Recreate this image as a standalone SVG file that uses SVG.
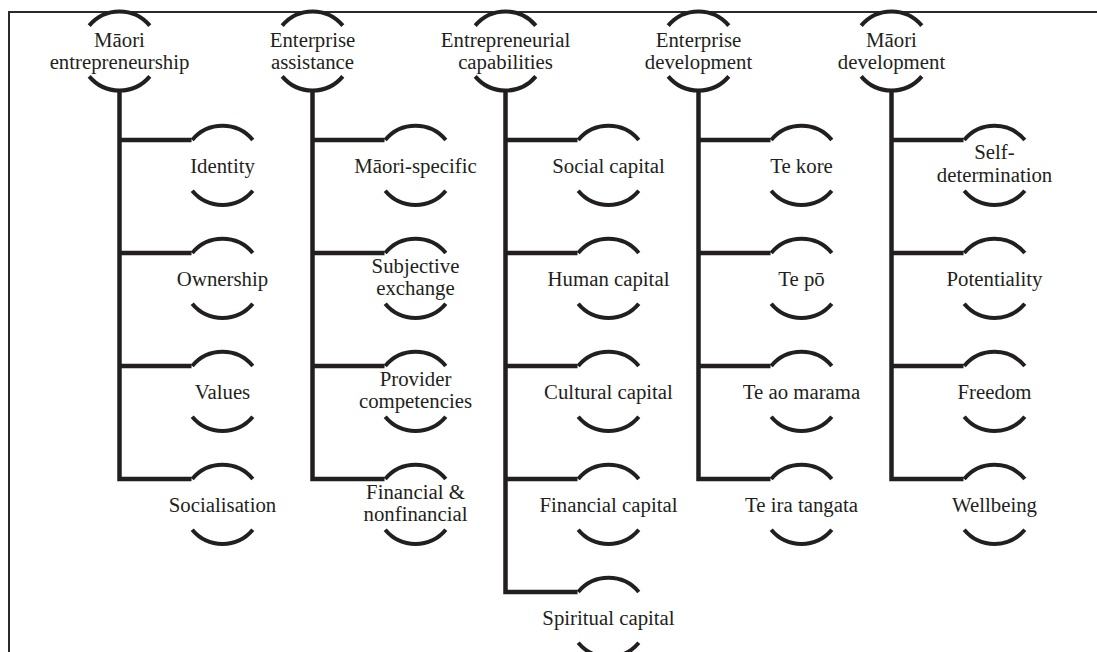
<svg xmlns="http://www.w3.org/2000/svg" width="1097" height="652" viewBox="0 0 1097 652">
  <style>
    .frame { fill: none; stroke: #2a2a2a; stroke-width: 2; }
    .ring { fill: none; stroke: #231f20; stroke-width: 4; stroke-linecap: butt; }
    .link { fill: none; stroke: #231f20; stroke-width: 4.5; stroke-linejoin: miter; }
    text { font-family: "Liberation Serif", "Times New Roman", serif; font-size: 20.8px; fill: #231f20; text-anchor: middle; }
  </style>
  <defs>
    <!-- open circle: two arcs with gaps at left and right, centred on 0,0 -->
    <path id="ring" class="ring" d="M -30.3 -25.4 A 39.5 39.5 0 0 1 30.3 -25.4 M -30.3 25.4 A 39.5 39.5 0 0 0 30.3 25.4"/>
  </defs>

  <rect width="1097" height="652" fill="#ffffff"/>
  <!-- frame: top and left edges -->
  <path class="frame" d="M 9 652 V 12 H 1097"/>

  <!-- connectors: stem under each heading, branches to each item -->
  <g id="connectors">
    <path class="link" d="M 119.5 89 V 479 H 191.5 M 119.5 140 H 191.5 M 119.5 253 H 191.5 M 119.5 366 H 191.5"/>
    <path class="link" d="M 312.5 89 V 479 H 384.5 M 312.5 140 H 384.5 M 312.5 253 H 384.5 M 312.5 366 H 384.5"/>
    <path class="link" d="M 505.5 89 V 592 H 577.5 M 505.5 140 H 577.5 M 505.5 253 H 577.5 M 505.5 366 H 577.5 M 505.5 479 H 577.5"/>
    <path class="link" d="M 698.5 89 V 479 H 770.5 M 698.5 140 H 770.5 M 698.5 253 H 770.5 M 698.5 366 H 770.5"/>
    <path class="link" d="M 891.5 89 V 479 H 963.5 M 891.5 140 H 963.5 M 891.5 253 H 963.5 M 891.5 366 H 963.5"/>
  </g>

  <g font-family="Liberation Serif, Times New Roman, serif">
  <!-- headings -->
  <g id="h-maori-entrepreneurship"><use href="#ring" x="119.5" y="51"/><text x="119.5" y="47">Māori</text><text x="119.5" y="69">entrepreneurship</text></g>
  <g id="h-enterprise-assistance"><use href="#ring" x="312.5" y="51"/><text x="312.5" y="47">Enterprise</text><text x="312.5" y="69">assistance</text></g>
  <g id="h-entrepreneurial-capabilities"><use href="#ring" x="505.5" y="51"/><text x="505.5" y="47">Entrepreneurial</text><text x="505.5" y="69">capabilities</text></g>
  <g id="h-enterprise-development"><use href="#ring" x="698.5" y="51"/><text x="698.5" y="47">Enterprise</text><text x="698.5" y="69">development</text></g>
  <g id="h-maori-development"><use href="#ring" x="891.5" y="51"/><text x="891.5" y="47">Māori</text><text x="891.5" y="69">development</text></g>

  <!-- Māori entrepreneurship items -->
  <g id="identity"><use href="#ring" x="222.5" y="165.4"/><text x="222.5" y="172.6">Identity</text></g>
  <g id="ownership"><use href="#ring" x="222.5" y="278.4"/><text x="222.5" y="285.6">Ownership</text></g>
  <g id="values"><use href="#ring" x="222.5" y="391.4"/><text x="222.5" y="398.6">Values</text></g>
  <g id="socialisation"><use href="#ring" x="222.5" y="504.4"/><text x="222.5" y="511.6">Socialisation</text></g>

  <!-- Enterprise assistance items -->
  <g id="maori-specific"><use href="#ring" x="415.5" y="165.4"/><text x="415.5" y="172.6">Māori-specific</text></g>
  <g id="subjective-exchange"><use href="#ring" x="415.5" y="278.4"/><text x="415.5" y="273">Subjective</text><text x="415.5" y="295">exchange</text></g>
  <g id="provider-competencies"><use href="#ring" x="415.5" y="391.4"/><text x="415.5" y="386">Provider</text><text x="415.5" y="408">competencies</text></g>
  <g id="financial-nonfinancial"><use href="#ring" x="415.5" y="504.4"/><text x="415.5" y="499">Financial &amp;</text><text x="415.5" y="521">nonfinancial</text></g>

  <!-- Entrepreneurial capabilities items -->
  <g id="social-capital"><use href="#ring" x="608.5" y="165.4"/><text x="608.5" y="172.6">Social capital</text></g>
  <g id="human-capital"><use href="#ring" x="608.5" y="278.4"/><text x="608.5" y="285.6">Human capital</text></g>
  <g id="cultural-capital"><use href="#ring" x="608.5" y="391.4"/><text x="608.5" y="398.6">Cultural capital</text></g>
  <g id="financial-capital"><use href="#ring" x="608.5" y="504.4"/><text x="608.5" y="511.6">Financial capital</text></g>
  <g id="spiritual-capital"><use href="#ring" x="608.5" y="617.4"/><text x="608.5" y="624.6">Spiritual capital</text></g>

  <!-- Enterprise development items -->
  <g id="te-kore"><use href="#ring" x="801.5" y="165.4"/><text x="801.5" y="172.6">Te kore</text></g>
  <g id="te-po"><use href="#ring" x="801.5" y="278.4"/><text x="801.5" y="285.6">Te pō</text></g>
  <g id="te-ao-marama"><use href="#ring" x="801.5" y="391.4"/><text x="801.5" y="398.6">Te ao marama</text></g>
  <g id="te-ira-tangata"><use href="#ring" x="801.5" y="504.4"/><text x="801.5" y="511.6">Te ira tangata</text></g>

  <!-- Māori development items -->
  <g id="self-determination"><use href="#ring" x="994.5" y="165.4"/><text x="994.5" y="159">Self-</text><text x="994.5" y="182">determination</text></g>
  <g id="potentiality"><use href="#ring" x="994.5" y="278.4"/><text x="994.5" y="285.6">Potentiality</text></g>
  <g id="freedom"><use href="#ring" x="994.5" y="391.4"/><text x="994.5" y="398.6">Freedom</text></g>
  <g id="wellbeing"><use href="#ring" x="994.5" y="504.4"/><text x="994.5" y="511.6">Wellbeing</text></g>
  </g>
</svg>
